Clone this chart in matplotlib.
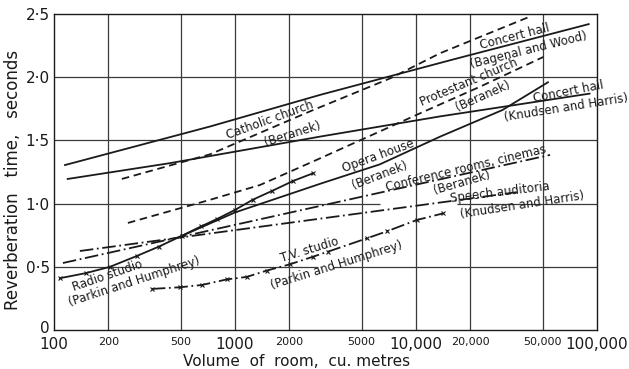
import matplotlib
matplotlib.use("Agg")
import matplotlib.pyplot as plt
import matplotlib.transforms as mtransforms

# ---- data ----
bagenal_x = [115, 728, 2950, 16000, 90000]
bagenal_y = [1.305, 1.61, 1.86, 2.14, 2.42]

knudsen_x = [119, 437, 2950, 13600, 91000]
knudsen_y = [1.195, 1.32, 1.53, 1.69, 1.87]

catholic_x = [237, 728, 2700, 7180, 13600, 42700]
catholic_y = [1.195, 1.39, 1.74, 1.99, 2.19, 2.48]

protestant_x = [256, 728, 1374, 2950, 10520, 22600, 50500]
protestant_y = [0.847, 1.03, 1.147, 1.358, 1.714, 1.925, 2.16]

opera_x = [500, 1000, 3000, 6300, 13600, 30000, 53600]
opera_y = [0.74, 0.93, 1.16, 1.31, 1.53, 1.74, 1.96]

radio_x = [108, 150, 204, 286, 380, 508, 650, 800, 1000, 1250, 1600, 2100, 2700]
radio_y = [0.41, 0.45, 0.50, 0.585, 0.66, 0.745, 0.82, 0.88, 0.95, 1.03, 1.10, 1.18, 1.24]

conference_x = [112, 55000]
conference_y = [0.53, 1.385]

speech_x = [139, 36000]
speech_y = [0.625, 1.09]

tv_x = [347, 497, 655, 899, 1161, 1497, 2013, 2698, 3266, 5345, 6886, 10090, 14150]
tv_y = [0.325, 0.338, 0.356, 0.40, 0.42, 0.47, 0.52, 0.58, 0.62, 0.725, 0.78, 0.87, 0.923]

x_ticks = [100, 200, 500, 1000, 2000, 5000, 10000, 20000, 50000, 100000]
x_tick_labels = ["100", "200", "500", "1000", "2000", "5000", "10,000", "20,000", "50,000", "100,000"]
x_major = ["100", "1000", "10,000", "100,000"]
y_ticks = [0, 0.5, 1.0, 1.5, 2.0, 2.5]
y_tick_labels = ["0", "0·5", "1·0", "1·5", "2·0", "2·5"]

# horizontal grid segments (the reference has white-outs behind some labels)
hgrid = [
    (0.5, [(100, 2870), (3480, 100000)]),
    (1.0, [(100, 6300), (16800, 100000)]),
    (1.5, [(100, 100000)]),
    (2.0, [(100, 100000)]),
]
vgrid = [200, 500, 1000, 2000, 5000, 10000, 20000, 50000]

# curve labels: text, centre (pixels from top-left of the figure), rotation
labels = [
    ("Catholic church", 270, 120, 20),
    ("(Beranek)", 293, 134, 17.5),
    ("Concert hall", 515, 37, 14.5),
    ("(Bagenal and Wood)", 529, 50, 14),
    ("Protestant church", 469, 82, 23),
    ("(Beranek)", 483, 96, 24),
    ("Concert hall", 568, 92, 11),
    ("(Knudsen and Harris)", 566, 108, 9),
    ("Opera house", 378, 156, 20),
    ("(Beranek)", 380, 175, 21),
    ("Conference rooms, cinemas", 466, 168, 13.5),
    ("(Beranek)", 462, 183, 16),
    ("Speech auditoria", 500, 192, 7),
    ("(Knudsen and Harris)", 522, 205, 8.7),
    ("T.V. studio", 310, 250, 17),
    ("(Parkin and Humphrey)", 337, 265, 17.4),
    ("Radio studio", 107, 276, 19),
    ("(Parkin and Humphrey)", 134, 282, 18),
]

W, H = 629, 369
fig = plt.figure(figsize=(W / 100, H / 100), dpi=100)
ax = fig.add_axes([54 / W, 1 - 330 / H, (597 - 54) / W, (330 - 14) / H])
ax.set_xscale("log")
ax.set_xlim(100, 100000)
ax.set_ylim(0, 2.5)

lw = 1.3
ink = "#1a1a1a"
gridc = "#3a3a3a"
dashed = (0, (4.2, 2.6))
dashdot = (0, (7.5, 2.0, 1.0, 2.0))

for yv, segs in hgrid:
    for x0, x1 in segs:
        ax.plot([x0, x1], [yv, yv], color=gridc, lw=0.9, zorder=1, solid_capstyle="butt")
for xv in vgrid:
    ax.axvline(xv, color=gridc, lw=0.9, zorder=1)

ax.plot(bagenal_x, bagenal_y, color=ink, lw=lw, zorder=3)
ax.plot(knudsen_x, knudsen_y, color=ink, lw=lw, zorder=3)
ax.plot(catholic_x, catholic_y, color=ink, lw=lw, ls=dashed, zorder=3)
ax.plot(protestant_x, protestant_y, color=ink, lw=lw, ls=dashed, zorder=3)
ax.plot(opera_x, opera_y, color=ink, lw=lw, zorder=3)
ax.plot(radio_x, radio_y, color=ink, lw=lw, marker="x", ms=3, mew=0.8, zorder=3)
ax.plot(conference_x, conference_y, color=ink, lw=lw, ls=dashdot, zorder=3)
ax.plot(speech_x, speech_y, color=ink, lw=lw, ls=dashdot, zorder=3)
ax.plot(tv_x, tv_y, color=ink, lw=lw, ls=dashdot, marker="x", ms=3, mew=0.8, zorder=3)

ax.set_xticks(x_ticks)
ax.set_xticklabels(x_tick_labels)
ax.minorticks_off()
ax.set_yticks(y_ticks)
ax.set_yticklabels(y_tick_labels, fontsize=11)
for t in ax.get_xticklabels():
    t.set_fontsize(11 if t.get_text() in x_major else 8)
ax.tick_params(axis="x", length=0, pad=5, colors=ink)
ax.tick_params(axis="y", length=0, pad=3, colors=ink)
# lift the "0" label a little so it clears "100"
ylabs = ax.get_yticklabels()
ylabs[0].set_transform(ylabs[0].get_transform() +
                       mtransforms.ScaledTranslation(0, 3 / 100, fig.dpi_scale_trans))
for s in ax.spines.values():
    s.set_color(ink)
    s.set_linewidth(1.0)

ax.set_xlabel("Volume  of  room,  cu. metres", fontsize=11, color=ink)
ax.xaxis.set_label_coords((297 - 54) / (597 - 54), -0.075)
ax.set_ylabel("Reverberation   time,   seconds", fontsize=12, color=ink)
ax.yaxis.set_label_coords(-(54 - 22) / (597 - 54), (330 - 180) / (330 - 14))

for txt, px, py, r in labels:
    fig.text(px / W, 1 - py / H, txt, rotation=r, rotation_mode="anchor",
             ha="center", va="center", fontsize=8.5, color=ink, zorder=4)

fig.savefig("out.png", dpi=100)
